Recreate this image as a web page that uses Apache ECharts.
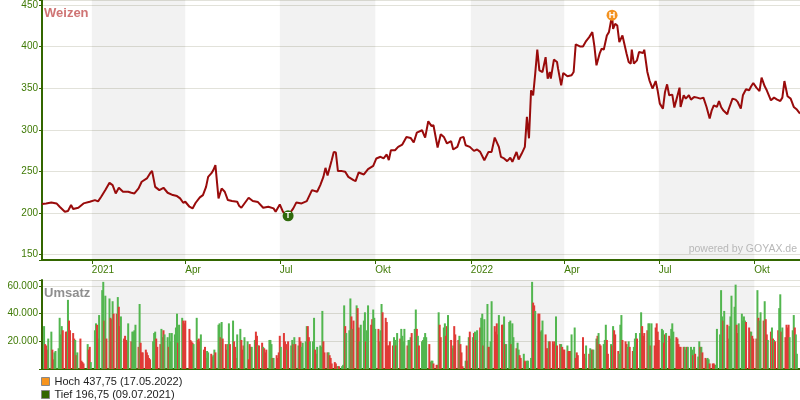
<!DOCTYPE html>
<html><head><meta charset="utf-8">
<script src="https://cdn.jsdelivr.net/npm/echarts@6/dist/echarts.min.js"></script>
<style>html,body{margin:0;padding:0;background:#fff}#c{width:800px;height:400px}</style>
</head><body><div id="c"></div>
<script>
// ---------- data ----------
const baseDate = '2021-01-01';               // day offsets below count from this date
const xRange = ['2020-11-14', '2022-11-14'];
const xTicks = ['2021-01-01','2021-04-01','2021-07-01','2021-10-01','2022-01-01','2022-04-01','2022-07-01','2022-10-01'];
const xTickLabels = ['2021','Apr','Jul','Okt','2022','Apr','Jul','Okt'];
const shadedQuarters = [['2021-01-01','2021-04-01'],['2021-07-01','2021-10-01'],['2022-01-01','2022-04-01'],['2022-07-01','2022-10-01']];
const priceRange = [143.6, 456];
const priceStep = 50;
const volumeMax = 64350;
const volumeStep = 20000;
const highPoint = ['2022-05-17', 437.75];
const lowPoint = ['2021-07-09', 196.75];

// [day offset from baseDate, price]
const price = [
[-48,210.8],[-44,211.6],[-39,212.8],[-34,211.6],[-31,207.6],[-26,201.6],[-23,202.4],[-20,209.6],[-18,204.8],[-13,206.3],[-8,211.6],[-2,213.6],
[3,215.6],[6,214],[9,219.6],[13,227.6],[17,236.3],[20,233.6],[23,223.6],[26,230.4],[30,225.6],[35,225.6],[38,224.4],[41,223.6],[45,229.6],[48,237.6],
[53,241.6],[56,247.6],[58,250.7],[61,231.5],[65,227.6],[69,230.4],[73,224.4],[78,221.6],[82,220.4],[85,217.6],[88,212.4],[90,213.6],[94,207.6],[97,205.6],
[100,212.4],[104,218.8],[107,221.6],[110,231.5],[112,243.5],[115,247.6],[117,251.6],[119,257.6],[122,217.6],[125,229.6],[128,225.6],[131,215.6],[135,214.4],
[140,213.6],[142,208.4],[144,206.4],[151,218.4],[155,214.4],[160,213.2],[165,206.4],[170,207.6],[175,205.6],[177,201.6],[181,210.4],[184,201.6],[189,196.75],
[194,205.6],[197,212.8],[202,211.6],[207,214.4],[212,227.6],[217,225.6],[220,233.6],[223,243.5],[225,254.3],[227,245.1],[231,263.5],[233,273.5],[235,272.7],
[237,250.4],[241,250.4],[244,249.6],[247,243.5],[252,239.6],[254,238.4],[257,248.8],[262,246.4],[266,252.8],[271,256.8],[274,265.6],[278,267.6],[281,265.6],
[284,270.4],[286,263.6],[288,275.5],[292,275.5],[295,279.5],[299,282.3],[303,291.5],[307,290.3],[310,284.8],[313,296.7],[318,299.5],[321,290.7],[324,310.3],
[327,304.7],[329,305.5],[333,278.8],[336,294.7],[339,291.5],[342,283.6],[346,286.4],[348,276.4],[352,279.5],[355,290.3],[358,291.5],[360,281.5],[364,279.5],
[368,274.7],[371,276.4],[374,273.5],[378,263.5],[382,273.5],[385,273.5],[388,290.7],[392,279.5],[394,267.5],[397,265.6],[400,262.4],[403,266.4],[405,261.6],
[409,273.5],[411,264.4],[414,271.5],[417,279.5],[419,315.5],[421,289.8],[423,347.5],[425,341.5],[427,367.5],[429,396.3],[431,371.5],[434,369.5],[437,387.4],
[439,361.5],[441,369.5],[442,361.5],[445,384.4],[448,381.5],[449,373.5],[452,353.5],[454,368.3],[458,364.4],[462,365.6],[464,369.5],[466,402.6],[470,400.2],
[473,400.2],[476,406.6],[479,411.4],[482,417.4],[484,400.2],[486,377.5],[489,391.5],[491,397.5],[493,396.3],[496,413.4],[498,417.4],[501,437.75],[502,421.4],
[504,427.4],[506,425.4],[508,405.4],[511,413.4],[515,391.5],[517,381.5],[519,379.5],[520,396.3],[522,379.5],[525,383.5],[527,393.5],[531,392.3],[532,396.3],
[535,369.5],[537,359.5],[540,349.5],[543,358.6],[545,346.6],[547,331.5],[550,325.5],[552,345.5],[554,354.7],[556,341.5],[559,342.3],[561,326.7],[563,336.3],
[566,350.7],[567,327.5],[570,341.5],[572,337.5],[575,341.5],[577,336.3],[580,339.5],[583,338.7],[586,337.5],[589,338.7],[592,327.5],[595,313.5],[597,323.5],
[599,329.5],[602,327.5],[604,334.7],[606,327.5],[608,323.5],[612,318.7],[613,323.5],[617,337.5],[620,336.3],[622,333.5],[625,325.5],[627,341.5],[630,348.7],
[633,347.5],[635,352.3],[637,356.3],[640,350.7],[643,346.6],[645,362.7],[648,352.3],[650,347.5],[654,335.5],[657,338.7],[660,336.3],[663,334.7],[665,338.7],
[667,358.6],[670,340.3],[673,337.5],[676,327.5],[679,324.3],[682,319.5]
];

// daily volume (thousands), one row per month, every weekday from volumeStart to volumeEnd
const volumeStart = '2020-11-16', volumeEnd = '2022-11-11';
const volumeK = [
[31,18,17,14,22,27,14,7,12,13,15],
[37,25,31,28,27,27,50,35,28,26,22,21,10,12,22,6,5,4,0,18,14,16,5],
[0,28,33,32,22,39,57,63,35,53,22,51,37,36,49,40,40,52,45,31,38],
[22,24,21,20,33,20,27,27,28,32,16,47,19,12,12,14,12,10,8,7],
[20,26,27,22,16,18,29,23,28,25,23,16,26,20,26,25,30,40,19,32,37,35,33],
[35,0,29,21,20,19,18,37,21,22,20,25,14,16,8,13,12,11,9,10,14,12],
[32,33,23,34,22,18,14,18,33,18,35,20,16,8,25,29,21,14,17,23,20],
[7,18,16,16,21,27,24,17,17,19,16,15,12,14,21,21,18,8,8,10,8,12],
[24,16,26,20,18,14,20,17,21,18,23,18,17,23,20,16,19,20,31,31,23,20],
[20,37,14,11,16,17,16,42,20,12,12,12,10,8,4,5,4,2,2,2,2,3],
[46,31,26,28,51,38,29,35,46,44,30,20,32,35,41,20,28,46,32,36,43,37],
[29,29,20,28,47,41,37,34,17,17,20,17,23,21,17,26,22,29,24,20,29],
[17,21,21,23,26,29,43,29,24,17,20,21,23,26,23,18,5,6,6,4,3,3],
[41,32,23,30,33,24,31,39,21,15,17,31,25,21,24,18,12,2,6,17,6,23,27],
[23,26,27,21,28,30,37,40,17,36,47,16,16,20,49,31,27,33,25,39,32],
[32,38,18,18,34,35,18,33,23,15,19,14,10,8,11,6,5,6,6,8],
[63,48,46,42,40,40,27,28,35,25,15,15,20,20,20,18,20,38,17,18,18,16,14],
[14,17,13,13,13,25,30,8,12,10,0,0,23,11,8,17,11,15,14,14,14],
[22,24,26,18,17,18,21,32,21,11,18,17,31,28,25,13,11,32,39,21,20,18],
[16,20,16,13,16,22,26,22,26,41,31,24,26,28,33,33,17,33,17,30,33,27],
[21,29,28,19,25,26,24,22,29,33,27,23,22,18,16,16,16,16,14,16,16],
[16,14,10,16,11,9,20,16,16,12,8,7,8,7,4,4,4,3,3,29,25,57,38],
[35,42,32,22,31,38,53,45,61,32,26,33,40,35,38,35,34,30,27,27,24,22],
[22,57,37,35,41,35,49,36,25,21,27,30,22,21,20,28,44,54,27,30,23],
[32,30,32,23,28,39,30,25,11]
];
// u = price up that day, d = down (same order as volumeK)
const volumeDir = [
'udddu udduu u',
'uuudd duddd dudud ddddu ddu',
'duudd uuudu duddu ddudd u',
'ddddu duuuu duddd ddddd',
'uuudd duudu uduuu uuudu udd',
'ddddd duudd duddd uuddu ud',
'uudud dduud udddu udddu u',
'ddduu ddudd udddu uudud dd',
'duddd uduud ududd uuuud du',
'uuddu uuudd duddd dddud uu',
'uduuu dudud duuuu duudd uu',
'udduu ddddd dduud uduuu u',
'duuud uudud uuuuu dduud dd',
'udduu ddudd udddu dddud dud',
'ududu duudu udduu ddddu d',
'duduu uduud uuddu dduuu',
'uddud dduud ddudd ddudd udd',
'duddd uuddd ddddd uduud u',
'ududd uuudd ududd duuud dd',
'uuddu uuduu ddddu ududd dd',
'duudd udduu udddd dduud u',
'uudud uudud dduud ddduu uuu',
'duddu uuuud duuuu udddu dd',
'duduu duddu dudud duudu d',
'ddduu uduu'
];

// ---------- build ----------
const DAY = 86400000;
const T = s => Date.parse(s);
const base = T(baseDate);
const FONT = '"Liberation Sans", Arial, sans-serif';
const GREEN_AX = '#336600', GREEN_TX = '#3f7a05';

const priceData = price.map(p => [base + p[0] * DAY, p[1]]);

const volDates = [];
for (let t = T(volumeStart); t <= T(volumeEnd); t += DAY) {
  const wd = new Date(t).getUTCDay();
  if (wd !== 0 && wd !== 6) volDates.push(t);
}
const volFlat = volumeK.flat();
const dirFlat = volumeDir.join('').replace(/\s+/g, '');
const volData = [];
volDates.forEach((t, i) => {
  if (i < volFlat.length && volFlat[i] > 0) {
    volData.push({ value: [t, volFlat[i] * 1000],
      itemStyle: { color: dirFlat[i] === 'u' ? '#52b64f' : '#e03a36' } });
  }
});

const tickTs = xTicks.map(T);
const bands = shadedQuarters.map(b => [{ xAxis: T(b[0]) }, { xAxis: T(b[1]) }]);
const de = v => String(v).replace('.', ',');
const deDate = s => s.split('-').reverse().join('.');
const thousands = v => String(v).replace(/\B(?=(\d{3})+(?!\d))/g, '.');
const hiName = 'Hoch ' + de(highPoint[1]) + ' (' + deDate(highPoint[0]) + ')';
const loName = 'Tief ' + de(lowPoint[1]) + ' (' + deDate(lowPoint[0]) + ')';

const chart = echarts.init(document.getElementById('c'), null, { renderer: 'canvas' });
chart.setOption({
  animation: false,
  backgroundColor: '#fff',
  textStyle: { fontFamily: FONT },
  title: [
    { text: 'Weizen', left: 44, top: 7, padding: 0,
      textStyle: { fontSize: 13, fontWeight: 'bold', color: '#cf7474', fontFamily: FONT } },
    { text: 'Umsatz', left: 44, top: 287, padding: 0,
      textStyle: { fontSize: 13, fontWeight: 'bold', color: '#8f8f8f', fontFamily: FONT } },
    { text: 'powered by GOYAX.de', right: 3, top: 244, padding: 0,
      textStyle: { fontSize: 10.5, fontWeight: 'normal', color: '#b8b8b8', fontFamily: FONT } }
  ],
  legend: {
    left: 41, top: 376, orient: 'vertical', itemWidth: 8, itemHeight: 8, itemGap: 2,
    padding: 0, selectedMode: false,
    textStyle: { fontSize: 11, color: '#222', fontFamily: FONT },
    data: [
      { name: hiName, icon: 'rect', itemStyle: { color: '#f7941d', opacity: 1, borderColor: '#888', borderWidth: 1 } },
      { name: loName, icon: 'rect', itemStyle: { color: '#336600', opacity: 1, borderColor: '#888', borderWidth: 1 } }
    ]
  },
  grid: [
    { left: 42, right: 0, top: 0, height: 260 },
    { left: 42, right: 0, top: 280, height: 89 }
  ],
  xAxis: [
    { type: 'value', gridIndex: 0, min: T(xRange[0]), max: T(xRange[1]), scale: true,
      axisLine: { show: true, onZero: false, lineStyle: { color: GREEN_AX, width: 2 } },
      axisTick: { show: true, customValues: tickTs, length: 4, lineStyle: { color: GREEN_AX } },
      axisLabel: { show: true, customValues: tickTs, align: 'left', margin: 5, fontSize: 10,
        color: GREEN_TX, fontFamily: FONT,
        formatter: v => { const i = tickTs.indexOf(v); return i >= 0 ? xTickLabels[i] : ''; } },
      splitLine: { show: false } },
    { type: 'value', gridIndex: 1, min: T(xRange[0]), max: T(xRange[1]), scale: true,
      axisLine: { show: true, onZero: false, lineStyle: { color: GREEN_AX, width: 2 } },
      axisTick: { show: false }, axisLabel: { show: false }, splitLine: { show: false } }
  ],
  yAxis: [
    { type: 'value', gridIndex: 0, min: priceRange[0], max: priceRange[1],
      axisLine: { show: true, lineStyle: { color: GREEN_AX, width: 2 } },
      axisTick: { show: true, length: 3, lineStyle: { color: GREEN_AX } },
      axisLabel: { fontSize: 10, color: GREEN_TX, margin: 4, fontFamily: FONT,
        formatter: v => (Math.abs(v % priceStep) < 1e-6 ? String(v) : '') },
      splitLine: { show: true, lineStyle: { color: '#e2e2da', width: 1 } } },
    { type: 'value', gridIndex: 1, min: 0, max: volumeMax, splitNumber: 3,
      axisLine: { show: true, lineStyle: { color: GREEN_AX, width: 2 } },
      axisTick: { show: true, length: 3, lineStyle: { color: GREEN_AX } },
      axisLabel: { fontSize: 10, color: GREEN_TX, margin: 4, fontFamily: FONT,
        formatter: v => (v > 0 && v % volumeStep === 0 ? thousands(v) : '') },
      splitLine: { show: true, lineStyle: { color: '#e2e2da', width: 1 } } }
  ],
  series: [
    { type: 'line', name: 'Weizen', xAxisIndex: 0, yAxisIndex: 0, data: priceData,
      showSymbol: false, symbol: 'none', lineStyle: { color: '#990b0b', width: 2 }, z: 3,
      markArea: { silent: true, itemStyle: { color: 'rgba(0,0,0,0.05)' }, data: bands },
      markPoint: { symbol: 'circle', symbolSize: 11, silent: true,
        label: { show: true, position: 'inside', color: '#fff', fontSize: 9, fontWeight: 'bold', fontFamily: FONT },
        data: [
          { coord: [T(highPoint[0]), highPoint[1]], itemStyle: { color: '#f39220' }, label: { formatter: 'H' } },
          { coord: [T(lowPoint[0]), lowPoint[1]], itemStyle: { color: '#2f6a0c' }, label: { formatter: 'T' } }
        ] } },
    { type: 'bar', name: 'Umsatz', xAxisIndex: 1, yAxisIndex: 1, data: volData, barWidth: 2,
      markArea: { silent: true, itemStyle: { color: 'rgba(0,0,0,0.05)' }, data: bands } },
    { type: 'bar', name: hiName, xAxisIndex: 0, yAxisIndex: 0, data: [], itemStyle: { color: '#f7941d' } },
    { type: 'bar', name: loName, xAxisIndex: 0, yAxisIndex: 0, data: [], itemStyle: { color: '#336600' } }
  ]
});
</script></body></html>
